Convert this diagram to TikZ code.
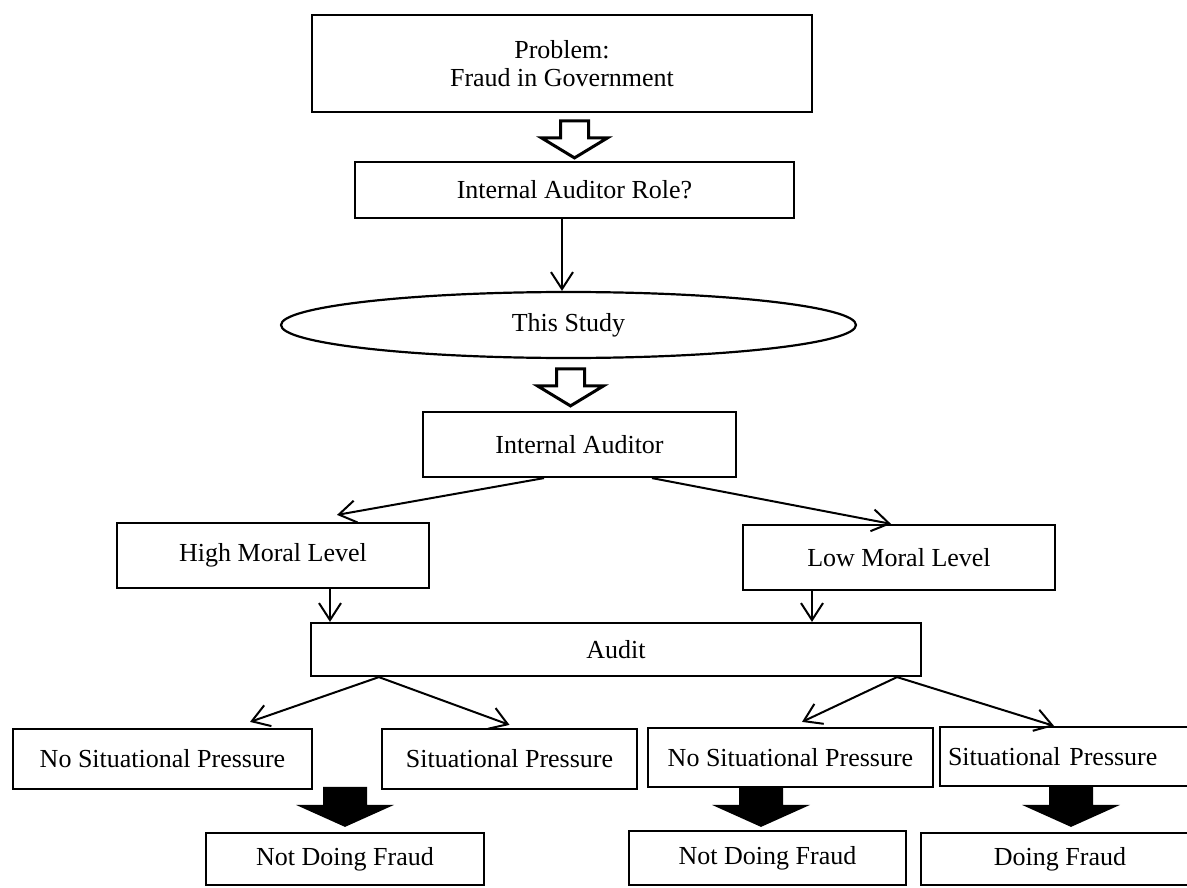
\documentclass[tikz,border=0pt]{standalone}
\usepackage{fontspec}
\setmainfont{Liberation Serif}
\usetikzlibrary{arrows.meta,shapes.geometric}

\tikzset{
	hollowarrow/.pic={\path[pic actions] (-14,-37) -- (14,-37) -- (14,-20) -- (33,-20) -- (0,0) -- (-33,-20) -- (-14,-20) -- cycle;},
	blackarrow/.pic={\path[pic actions] (-22,-40) -- (22,-40) -- (22,-22) -- (49,-22) -- (0,0) -- (-49,-22) -- (-22,-22) -- cycle;}
}

\begin{document}
\begin{tikzpicture}[x=1pt,y=-1pt,
	every node/.style={font=\fontsize{26}{28}\selectfont},
	box/.style={draw,line width=2.2pt,inner sep=6pt,align=center},
	arr/.style={line width=2pt,-{Straight Barb[length=17pt,width=22pt]}}]
		\path[use as bounding box] (0,0) rectangle (1187,888);

		\node[box,minimum width=500pt,minimum height=97pt] (prob) at (562,63.5) {Problem:\\Fraud in Government};
		\node[box,minimum width=439pt,minimum height=56pt] (role) at (574.5,190) {Internal Auditor Role?};
		\node[draw,ellipse,line width=2.2pt,minimum width=575pt,minimum height=66pt] (study) at (568.5,325) {This Study};
		\node[box,minimum width=313pt,minimum height=65pt] (ia) at (579.5,444.5) {Internal Auditor};

		\pic[draw,fill=white,line width=3pt] at ([yshift=3pt]role.north) {hollowarrow};
		\draw[arr] (role.south -| prob.south) -- (study.north -| prob.south);
		\pic[draw,fill=white,line width=3pt] at ([xshift=-9pt,yshift=5pt]ia.north) {hollowarrow};

		% moral level
		\node[box,minimum width=312pt,minimum height=65pt] (hml) at (273,555.5) {High Moral Level};
		\node[box,minimum width=312pt,minimum height=65pt] (lml) at (899,557.5) {Low Moral Level};
		\draw[arr] ([xshift=-35.5pt]ia.south) -- ([xshift=64pt,yshift=7pt]hml.north);
		\draw[arr] ([xshift=72.5pt]ia.south) -- ([xshift=-8pt]lml.north);

		\node[box,minimum width=610pt,minimum height=53pt] (audit) at (616,649.5) {Audit};
		\draw[arr] ([xshift=57pt]hml.south) coordinate (h1) -- (h1 |- audit.north);
		\draw[arr] ([xshift=-87pt]lml.south) coordinate (l1) -- (l1 |- audit.north);

		% pressure
		\node[box,minimum width=299pt,minimum height=60pt] (nsp1) at (162.5,759) {No Situational Pressure};
		\node[box,minimum width=255pt,minimum height=60pt] (sp1) at (509.5,759) {Situational Pressure};
		\node[box,minimum width=285pt,minimum height=59pt] (nsp2) at (790.5,757.5) {No Situational Pressure};
		\node[box,minimum height=59pt,text width=243pt,inner xsep=8pt,align=left] (sp2) at (1069.5,756.5) {Situational Pressure};
		\draw[arr] ([xshift=69pt]audit.south west) -- ([xshift=87.5pt,yshift=6pt]nsp1.north);
		\draw[arr] ([xshift=69pt]audit.south west) -- ([yshift=3pt]sp1.north);
		\draw[arr] ([xshift=-25pt]audit.south east) -- ([xshift=11.5pt,yshift=5pt]nsp2.north);
		\draw[arr] ([xshift=-25pt]audit.south east) -- ([xshift=-15.5pt]sp2.north);

		% result
		\node[box,minimum width=278pt,minimum height=52pt] (ndf1) at (345,859) {Not Doing Fraud};
		\node[box,minimum width=277pt,minimum height=54pt] (ndf2) at (767.5,858) {Not Doing Fraud};
		\node[box,minimum width=278pt,minimum height=52pt] (df) at (1060,859) {Doing Fraud};
		\pic[fill=black] at ([yshift=5pt]ndf1.north) {blackarrow};
		\pic[fill=black] at ([xshift=-6.5pt,yshift=3pt]ndf2.north) {blackarrow};
		\pic[fill=black] at ([xshift=11pt,yshift=5pt]df.north) {blackarrow};
\end{tikzpicture}
\end{document}
